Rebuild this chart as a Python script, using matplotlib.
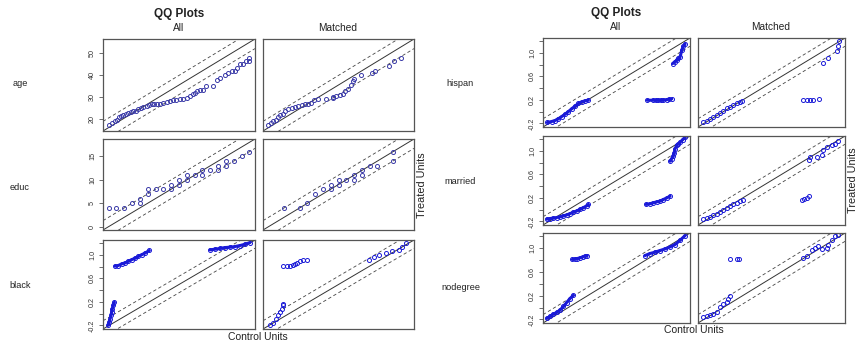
import matplotlib
matplotlib.use('agg')
import matplotlib.pyplot as plt

plt.rcParams['font.family'] = ['Liberation Sans', 'DejaVu Sans']
plt.rcParams['axes.unicode_minus'] = False

# ---- values (control quantile, treated quantile) ----
age_all_ctrl = [16.0, 16.8, 17.8, 18.4, 19.0, 19.3, 20.1, 20.8, 21.5, 22.1,
                22.8, 23.6, 24.2, 24.9, 25.6, 26.5, 27.3, 27.9, 28.6, 29.3,
                30.2, 31.1, 32.1, 33.0, 33.9, 34.8, 35.8, 36.7, 37.8, 38.5,
                39.3, 39.9, 40.6, 41.3, 42.2, 43.0, 45.0, 45.9, 46.8, 48.2,
                49.2, 50.1, 51.0, 51.7, 52.4, 53.1, 54.1, 55.0, 55.0]
age_all_trt = [17.2, 18.2, 18.8, 19.7, 20.8, 21.5, 21.8, 22.3, 22.8, 23.1,
               23.4, 23.8, 24.6, 24.9, 25.4, 25.7, 26.2, 26.6, 26.9, 26.9,
               26.9, 27.2, 27.7, 28.2, 28.5, 28.8, 29.2, 29.2, 29.5, 30.5,
               31.2, 32.0, 32.6, 33.1, 33.1, 35.1, 35.1, 37.7, 38.5, 40.3,
               40.8, 41.8, 41.8, 43.1, 44.9, 44.9, 46.5, 46.5, 48.0]
age_m_ctrl = [15.9, 16.6, 17.3, 18.2, 18.7, 19.1, 19.9, 20.5, 21.5, 22.4,
              23.3, 24.2, 25.2, 26.1, 27.0, 27.9, 28.8, 29.8, 32.1, 33.9,
              33.9, 34.8, 35.8, 36.7, 37.2, 38.1, 39.0, 39.5, 39.9, 41.8,
              44.8, 45.7, 49.6, 51.0, 52.8]
age_m_trt = [17.2, 18.2, 18.8, 19.7, 20.8, 21.8, 22.3, 23.4, 24.3, 24.9,
             25.4, 25.7, 26.2, 26.6, 26.9, 27.2, 28.5, 29.2, 29.2, 29.5,
             30.0, 30.5, 31.1, 31.5, 32.6, 33.5, 35.7, 37.2, 38.2, 40.0,
             41.2, 41.8, 44.3, 46.5, 48.0]

educ_all_ctrl = [0, 1, 2, 3, 4, 4, 5, 5, 6, 7, 8, 8, 9, 9, 10, 10, 11, 12, 12,
                 13, 14, 14, 15, 15, 16, 17, 18]
educ_all_trt = [4, 4, 4, 5, 5, 6, 7, 8, 8, 8, 8, 9, 9, 10, 10, 11, 11, 11, 12,
                12, 12, 13, 13, 14, 14, 15, 16]
educ_m_ctrl = [2, 4, 5, 6, 7, 8, 8, 9, 9, 10, 11, 11, 12, 12, 13, 14, 16, 16]
educ_m_trt = [4, 4, 5, 7, 8, 8, 9, 9, 10, 10, 10, 11, 11, 12, 13, 13, 14, 16]

black_all_ctrl = [-0.207, -0.197, -0.19, -0.18, -0.174, -0.167, -0.157, -0.147,
                  -0.141, -0.108, -0.075, -0.041, -0.008, 0.025, 0.058, 0.091, 0.124, 0.157, 0.2,
                  0.803, 0.853, 0.902, 0.952, 1.002, 1.051, 1.101, 1.151, 1.2]
black_all_trt = [-0.194, -0.139, -0.083, -0.028, 0.028, 0.083, 0.139, 0.194,
                 0.806, 0.817, 0.844, 0.861, 0.889, 0.917, 0.939, 0.972, 1.0, 1.028, 1.072,
                 1.083, 1.094, 1.106, 1.122, 1.128, 1.139, 1.156, 1.178, 1.206]
black_m_ctrl = [-0.19, -0.157, -0.13, -0.108, -0.091, -0.075, -0.065, -0.058,
                -0.058, -0.025, 0.008, 0.035, 0.058, 0.081, 0.107, 0.141, 0.18,
                0.80, 0.85, 0.90, 0.97, 1.03, 1.10, 1.13, 1.167]
black_m_trt = [-0.19, -0.15, -0.083, -0.028, 0.028, 0.072, 0.14, 0.167,
               0.806, 0.806, 0.817, 0.833, 0.85, 0.861, 0.889, 0.906, 0.917,
               0.917, 0.961, 1.0, 1.028, 1.056, 1.083, 1.139, 1.194]

hispan_all_ctrl = [-0.215, -0.171, -0.137, -0.102, -0.068, -0.034, 0.0, 0.035, 0.069,
                   0.103, 0.137, 0.171, 0.206,
                   0.812, 0.874, 0.901, 0.925, 0.949, 0.976, 1.01, 1.038, 1.062,
                   1.072, 1.096, 1.113, 1.13, 1.148, 1.165, 1.182, 1.199]
hispan_all_trt = [-0.183, -0.167, -0.15, -0.122, -0.083, -0.044, 0.0, 0.05, 0.094,
                  0.139, 0.167, 0.183, 0.194,
                  0.194, 0.194, 0.194, 0.194, 0.194, 0.194, 0.206, 0.211, 0.217,
                  0.817, 0.85, 0.872, 0.906, 0.928, 1.039, 1.111, 1.15]
hispan_m_ctrl = [-0.205, -0.171, -0.137, -0.102, -0.068, -0.034, 0.0, 0.034, 0.069,
                 0.103, 0.137, 0.172, 0.189,
                 0.822, 0.856, 0.891, 0.925, 0.987,
                 1.028, 1.079, 1.165, 1.175, 1.189]
hispan_m_trt = [-0.183, -0.156, -0.128, -0.094, -0.056, -0.017, 0.017, 0.056, 0.083,
                0.111, 0.139, 0.167, 0.183,
                0.206, 0.206, 0.206, 0.206, 0.211,
                0.833, 0.917, 1.028, 1.111, 1.206]

married_all_ctrl = [-0.222, -0.188, -0.154, -0.12, -0.085, -0.051, -0.017, 0.017, 0.052,
                    0.086, 0.12, 0.154, 0.189, 0.206,
                    0.798, 0.839, 0.874, 0.908, 0.942, 0.976, 1.011, 1.045,
                    1.045, 1.062, 1.079, 1.089, 1.096, 1.113, 1.13, 1.148, 1.175, 1.199]
married_all_trt = [-0.161, -0.15, -0.144, -0.133, -0.122, -0.106, -0.089, -0.067, -0.044,
                   -0.022, 0.006, 0.033, 0.067, 0.089,
                   0.089, 0.1, 0.117, 0.133, 0.144, 0.172, 0.2, 0.228,
                   0.822, 0.867, 0.911, 0.967, 1.033, 1.089, 1.117, 1.144, 1.189, 1.228]
married_m_ctrl = [-0.205, -0.171, -0.137, -0.102, -0.068, -0.034, 0.0, 0.034, 0.069,
                  0.103, 0.137, 0.172, 0.199,
                  0.805, 0.829, 0.856, 0.884,
                  0.884, 0.891, 0.959, 1.01, 1.028, 1.062, 1.113, 1.148, 1.182]
married_m_trt = [-0.161, -0.144, -0.122, -0.094, -0.067, -0.033, 0.0, 0.033, 0.061,
                 0.089, 0.117, 0.144, 0.161,
                 0.172, 0.183, 0.2, 0.228,
                 0.839, 0.894, 0.894, 0.933, 1.006, 1.061, 1.089, 1.117, 1.172]

nodegree_all_ctrl = [-0.222, -0.188, -0.154, -0.12, -0.085, -0.051, -0.017, 0.017, 0.052,
                     0.041, 0.069, 0.093, 0.12, 0.148, 0.171, 0.195,
                     0.788, 0.839, 0.891, 0.942, 0.993, 1.045, 1.096, 1.148, 1.199]
nodegree_all_trt = [-0.183, -0.15, -0.111, -0.083, -0.044, 0.017, 0.083, 0.15, 0.206,
                    0.806, 0.817, 0.822, 0.833, 0.85, 0.861, 0.872,
                    0.872, 0.906, 0.928, 0.956, 0.983, 1.017, 1.056, 1.128, 1.206]
nodegree_m_ctrl = [-0.205, -0.171, -0.137, -0.102, -0.068, -0.034, 0.0, 0.034, 0.051, 0.069,
                   0.069, 0.137, 0.164,
                   0.822, 0.856, 0.908, 0.942, 0.976, 1.01, 1.062, 1.079, 1.113, 1.148, 1.182]
nodegree_m_trt = [-0.167, -0.139, -0.128, -0.111, -0.072, 0.006, 0.061, 0.1, 0.144, 0.2,
                  0.806, 0.817, 0.817,
                  0.833, 0.872, 0.961, 1.0, 1.039, 0.983, 1.0, 1.056, 1.139, 1.194, 1.222]

# axis ranges and offset of the dashed reference lines
age_lim = (14.44, 56.56)
educ_lim = (-0.72, 18.72)
bin_lim = (-0.26, 1.25)
age_band = 4.4
educ_band = 2.0
bin_band = 0.14

W, H = 859, 342
fig = plt.figure(figsize=(W / 100, H / 100), dpi=100)


def ax_at(x0, x1, y0, y1):
    return fig.add_axes([x0 / W, 1 - y1 / H, (x1 - x0) / W, (y1 - y0) / H])


def txt(x, y, s, **kw):
    fig.text(x / W, 1 - y / H, s, ha='center', va='center', color='#222222', **kw)


def split_runs(xs, ys, gap=0.3):
    runs, cur = [], [0]
    for i in range(1, len(xs)):
        if abs(xs[i] - xs[i - 1]) > gap or abs(ys[i] - ys[i - 1]) > gap:
            runs.append(cur)
            cur = []
        cur.append(i)
    runs.append(cur)
    return runs


def panel(box, xs, ys, lim, band, ticks=None, labels=None, col='#3a3aa8', dense=False):
    ax = ax_at(*box)
    lo, hi = lim
    ax.plot([lo, hi], [lo, hi], color='#333333', lw=0.7)
    for s in (band, -band):
        ax.plot([lo, hi], [lo + s, hi + s], color='#444444', lw=0.6, ls=(0, (4, 3)))
    if dense:
        for r in split_runs(xs, ys):
            ax.plot([xs[i] for i in r], [ys[i] for i in r], color=col, lw=2.2,
                    solid_capstyle='round')
    ax.plot(xs, ys, ls='none', marker='o', ms=2.9, mfc='none', mec=col, mew=0.7)
    ax.set_xlim(lo, hi)
    ax.set_ylim(lo, hi)
    ax.set_xticks([])
    if ticks is None:
        ax.set_yticks([])
    else:
        ax.set_yticks(ticks)
        ax.set_yticklabels(labels, rotation=90, va='center', fontsize=5.2, color='#333333')
        ax.tick_params(axis='y', length=3, width=0.6, color='#555555', pad=2)
    for sp in ax.spines.values():
        sp.set_color('#555555')
        sp.set_linewidth(0.9)
    return ax


bin_ticks = [-0.2, 0.0, 0.2, 0.4, 0.6, 0.8, 1.0, 1.2]
bin_labels = ['-0.2', '', '0.2', '', '0.6', '', '1.0', '']
blue = '#1a1ad8'

# left figure
lc = [(103, 255), (263, 414)]
lr = [(39, 131), (139, 230), (240, 329)]
panel((lc[0][0], lc[0][1], lr[0][0], lr[0][1]), age_all_ctrl, age_all_trt, age_lim, age_band,
      [20, 30, 40, 50], ['20', '30', '40', '50'])
panel((lc[1][0], lc[1][1], lr[0][0], lr[0][1]), age_m_ctrl, age_m_trt, age_lim, age_band)
panel((lc[0][0], lc[0][1], lr[1][0], lr[1][1]), educ_all_ctrl, educ_all_trt, educ_lim, educ_band,
      [0, 5, 10, 15], ['0', '5', '10', '15'])
panel((lc[1][0], lc[1][1], lr[1][0], lr[1][1]), educ_m_ctrl, educ_m_trt, educ_lim, educ_band)
panel((lc[0][0], lc[0][1], lr[2][0], lr[2][1]), black_all_ctrl, black_all_trt, bin_lim, bin_band,
      bin_ticks, bin_labels, col=blue, dense=True)
panel((lc[1][0], lc[1][1], lr[2][0], lr[2][1]), black_m_ctrl, black_m_trt, bin_lim, bin_band,
      col=blue)

# right figure
rc = [(543, 690), (698, 845)]
rr = [(38, 127), (136, 225), (233, 323)]
panel((rc[0][0], rc[0][1], rr[0][0], rr[0][1]), hispan_all_ctrl, hispan_all_trt, bin_lim, bin_band,
      bin_ticks, bin_labels, col=blue, dense=True)
panel((rc[1][0], rc[1][1], rr[0][0], rr[0][1]), hispan_m_ctrl, hispan_m_trt, bin_lim, bin_band,
      col=blue)
panel((rc[0][0], rc[0][1], rr[1][0], rr[1][1]), married_all_ctrl, married_all_trt, bin_lim, bin_band,
      bin_ticks, bin_labels, col=blue, dense=True)
panel((rc[1][0], rc[1][1], rr[1][0], rr[1][1]), married_m_ctrl, married_m_trt, bin_lim, bin_band,
      col=blue)
panel((rc[0][0], rc[0][1], rr[2][0], rr[2][1]), nodegree_all_ctrl, nodegree_all_trt, bin_lim, bin_band,
      bin_ticks, bin_labels, col=blue, dense=True)
panel((rc[1][0], rc[1][1], rr[2][0], rr[2][1]), nodegree_m_ctrl, nodegree_m_trt, bin_lim, bin_band,
      col=blue)

# titles and labels
txt(179, 14, 'QQ Plots', fontsize=8.5, fontweight='bold')
txt(179, 28, 'All', fontsize=7.3)
txt(338, 28, 'Matched', fontsize=7.3)
txt(616, 13, 'QQ Plots', fontsize=8.5, fontweight='bold')
txt(616, 27, 'All', fontsize=7.3)
txt(771, 27, 'Matched', fontsize=7.3)

txt(20, 84, 'age', fontsize=6.6)
txt(20, 187, 'educ', fontsize=6.6)
txt(20, 286, 'black', fontsize=6.6)
txt(460, 83, 'hispan', fontsize=6.6)
txt(460, 182, 'married', fontsize=6.6)
txt(461, 287, 'nodegree', fontsize=6.6)

txt(422, 185, 'Treated Units', fontsize=7.8, rotation=90)
txt(853, 180, 'Treated Units', fontsize=7.8, rotation=90)
txt(258, 337, 'Control Units', fontsize=7.5)
txt(694, 330, 'Control Units', fontsize=7.5)

fig.savefig('out.png', dpi=100)
